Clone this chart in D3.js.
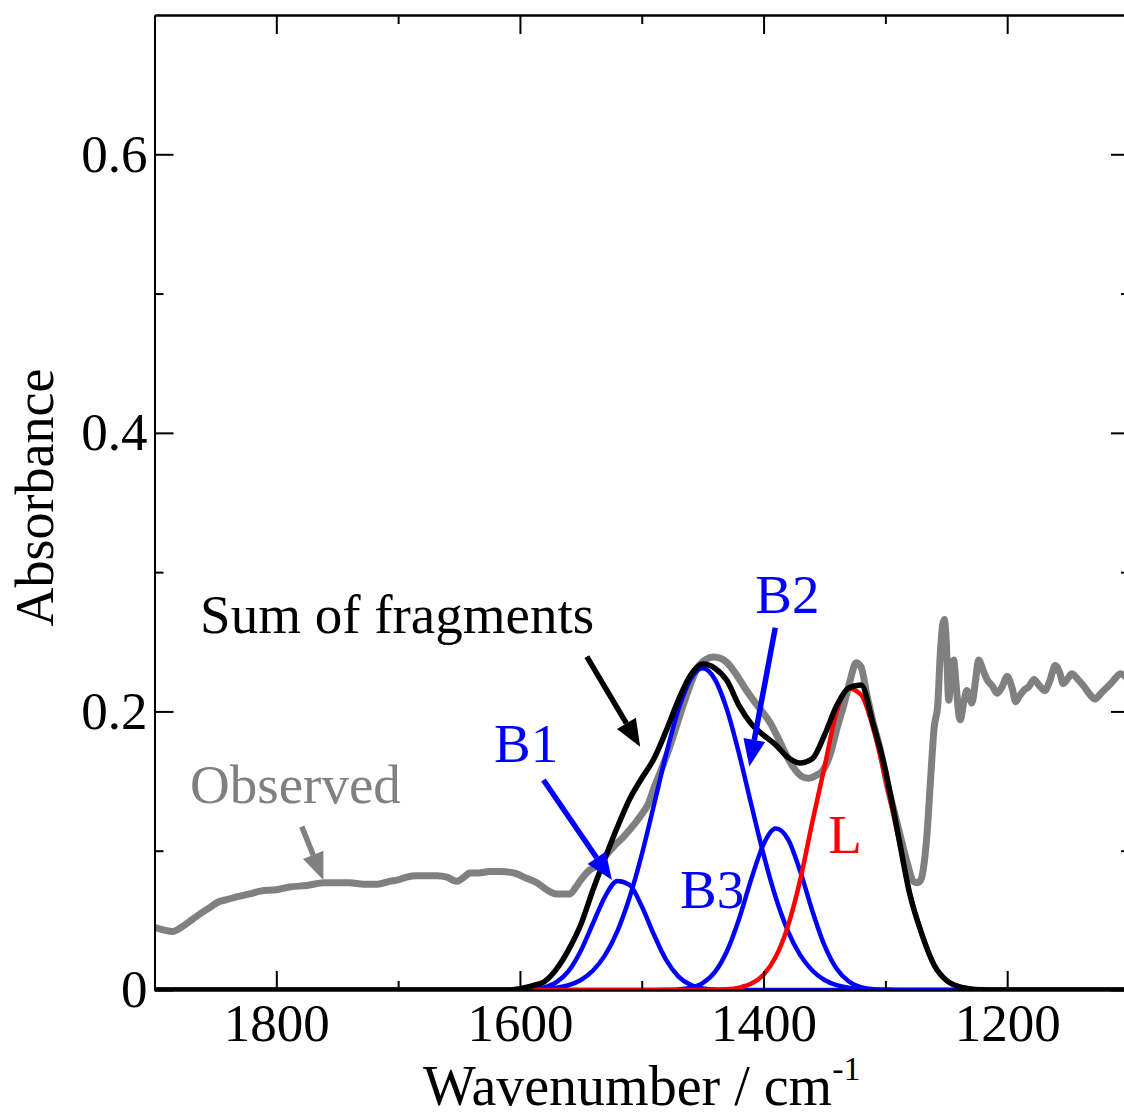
<!DOCTYPE html>
<html>
<head>
<meta charset="utf-8">
<script src="https://cdn.jsdelivr.net/npm/d3@7"></script>
<style>
  body { margin: 0; background: #fff; }
  svg { display: block; font-family: "Liberation Serif", "Times New Roman", serif; }
</style>
</head>
<body>
<div id="chart"></div>
<script>
// wavenumber grid for the fitted curves
const fitWn = [1900, 1640, 1630, 1620, 1610, 1600, 1590, 1580, 1570, 1560, 1550, 1540, 1530, 1520, 1510, 1500,
    1490, 1480, 1470, 1460, 1450, 1440, 1430, 1420, 1410, 1400, 1390, 1380, 1370, 1360, 1350, 1340, 1330,
    1320, 1310, 1300, 1290, 1280, 1270, 1260, 1250, 1240, 1230, 1220, 1210, 1200, 1100];

const b1 = [0, 0, 0, 0, 0, 0.0001, 0.0005, 0.0019, 0.0056, 0.0137, 0.0282, 0.0479, 0.0673, 0.0783, 0.0754, 0.0601,
    0.0397, 0.0216, 0.0098, 0.0037, 0.0011, 0.0003, 0.0001, 0, 0, 0, 0, 0, 0, 0, 0, 0, 0,
    0, 0, 0, 0, 0, 0, 0, 0, 0, 0, 0, 0, 0, 0];

const b2 = [0, 0, 0, 0, 0, 0.0001, 0.0003, 0.0007, 0.0016, 0.0035, 0.0072, 0.014, 0.0252, 0.0423, 0.0664, 0.0972,
    0.1328, 0.1692, 0.2011, 0.2231, 0.231, 0.2231, 0.2011, 0.1692, 0.1328, 0.0972, 0.0664, 0.0423, 0.0252, 0.014, 0.0072, 0.0035, 0.0016,
    0.0007, 0.0003, 0.0001, 0, 0, 0, 0, 0, 0, 0, 0, 0, 0, 0];

const b3 = [0, 0, 0, 0, 0, 0, 0, 0, 0, 0, 0, 0, 0, 0, 0, 0,
    0, 0.0001, 0.0004, 0.0016, 0.005, 0.0128, 0.028, 0.0514, 0.0799, 0.1047, 0.1159, 0.1083, 0.0854, 0.0569, 0.032, 0.0152, 0.0061,
    0.0021, 0.0006, 0.0001, 0, 0, 0, 0, 0, 0, 0, 0, 0, 0, 0];

const lBand = [0, 0, 0, 0, 0, 0, 0, 0, 0, 0, 0, 0, 0, 0, 0, 0,
    0, 0, 0, 0, 0, 0.0002, 0.0005, 0.0017, 0.0046, 0.011, 0.0238, 0.0459, 0.0787, 0.1204, 0.160, 0.1998, 0.2165,
    0.212, 0.188, 0.152, 0.112, 0.070, 0.040, 0.018, 0.007, 0.0025, 0.0008, 0.0002, 0, 0, 0];

const sumFit = [0, 0, 0, 0, 0, 0.001, 0.003, 0.006, 0.015, 0.029, 0.047, 0.072, 0.095, 0.117, 0.137, 0.152,
    0.166, 0.186, 0.208, 0.226, 0.234, 0.231, 0.222, 0.204, 0.191, 0.183, 0.176, 0.167, 0.163, 0.166, 0.183, 0.204, 0.217,
    0.219, 0.191, 0.158, 0.114, 0.069, 0.040, 0.018, 0.007, 0.0025, 0.0008, 0.0002, 0, 0, 0];

// observed spectrum
const obsWn = [1900, 1892, 1885, 1878, 1870, 1862, 1855, 1848, 1840, 1832, 1822, 1813, 1800, 1789, 1775, 1761,
    1750, 1740, 1728, 1717, 1707, 1700, 1693, 1685, 1676, 1668, 1660, 1652, 1646, 1641, 1634, 1625, 1616,
    1605, 1594, 1586, 1578, 1570, 1564, 1559, 1554, 1550, 1543, 1537, 1529, 1523, 1515, 1508, 1501, 1495,
    1490, 1485, 1478, 1468, 1461, 1455, 1448, 1441, 1435, 1430, 1422, 1414, 1404, 1394, 1387, 1381, 1374,
    1368, 1363, 1357, 1351, 1345, 1340, 1334, 1329, 1324, 1320, 1315, 1310, 1304, 1298, 1293, 1287, 1282,
    1277, 1274, 1271, 1269, 1266, 1263, 1260, 1257, 1255, 1253, 1251.6, 1250, 1248, 1246, 1244, 1242, 1240,
    1238.5, 1236, 1233, 1231, 1229, 1226, 1223.5, 1220, 1216.6, 1212, 1208.4, 1204, 1200, 1196, 1193, 1190,
    1186.5, 1182, 1178, 1174, 1169, 1165, 1160.5, 1157, 1154, 1150, 1147, 1142, 1137, 1132, 1128, 1122,
    1115, 1111, 1107, 1100];

const obsAbs = [0.045, 0.043, 0.042, 0.045, 0.050, 0.055, 0.059, 0.063, 0.065, 0.067, 0.069, 0.071, 0.072, 0.074, 0.075, 0.077,
    0.077, 0.077, 0.076, 0.076, 0.078, 0.079, 0.081, 0.082, 0.082, 0.082, 0.081, 0.078, 0.081, 0.084, 0.084, 0.085, 0.085,
    0.084, 0.080, 0.077, 0.072, 0.069, 0.069, 0.069, 0.074, 0.079, 0.086, 0.089, 0.097, 0.103, 0.110, 0.117, 0.125, 0.133,
    0.145, 0.156, 0.172, 0.199, 0.217, 0.230, 0.237, 0.239, 0.238, 0.235, 0.226, 0.215, 0.203, 0.191, 0.179, 0.168, 0.158,
    0.153, 0.152, 0.154, 0.158, 0.170, 0.187, 0.205, 0.222, 0.235, 0.232, 0.211, 0.192, 0.172, 0.146, 0.129, 0.108, 0.091,
    0.078, 0.077, 0.079, 0.086, 0.110, 0.150, 0.188, 0.205, 0.240, 0.262, 0.266, 0.250, 0.208, 0.225, 0.237, 0.220, 0.200,
    0.194, 0.205, 0.215, 0.212, 0.206, 0.222, 0.237, 0.230, 0.223, 0.218, 0.213, 0.218, 0.225, 0.217, 0.207, 0.211,
    0.215, 0.218, 0.223, 0.219, 0.215, 0.222, 0.233, 0.228, 0.220, 0.224, 0.227, 0.223, 0.218, 0.212, 0.209, 0.214,
    0.220, 0.224, 0.227, 0.222];

const xMajorTicks = [1800, 1600, 1400, 1200];
const xMinorTicks = [1700, 1500, 1300];
const yMajorTicks = [0, 0.2, 0.4, 0.6];
const yMinorTicks = [0.1, 0.3, 0.5];

const width = 1124;
const height = 1117;
const plotLeft = 154.5, plotRight = 1129, plotTop = 15, plotBottom = 990;
const tickFont = 53;
const labelFont = 55;
const titleFont = 56;

const x = d3.scaleLinear().domain([1900, 1100]).range([plotLeft, plotRight]);
const y = d3.scaleLinear().domain([0, 0.7]).range([plotBottom, plotTop]);

const svg = d3.select("#chart")
    .append("svg")
    .attr("width", width)
    .attr("height", height);

svg.append("defs").append("clipPath")
    .attr("id", "plot-clip")
    .append("rect")
    .attr("x", plotLeft)
    .attr("y", plotTop)
    .attr("width", plotRight - plotLeft)
    .attr("height", plotBottom - plotTop);

const plot = svg.append("g").attr("clip-path", "url(#plot-clip)");

const line = d3.line()
    .x(d => x(d[0]))
    .y(d => y(d[1]))
    .curve(d3.curveMonotoneX);

function drawCurve(xs, ys, color, lw) {
    plot.append("path")
        .datum(xs.map((w, i) => [w, ys[i]]))
        .attr("fill", "none")
        .attr("stroke", color)
        .attr("stroke-width", lw)
        .attr("stroke-linejoin", "round")
        .attr("d", line);
}

// observed first, then bands, then the sum on top
drawCurve(obsWn, obsAbs, "#808080", 7);
drawCurve(fitWn, b1, "#0000ff", 4.5);
drawCurve(fitWn, b2, "#0000ff", 4.5);
drawCurve(fitWn, b3, "#0000ff", 4.5);
drawCurve(fitWn, lBand, "#ff0000", 4.5);
drawCurve(fitWn, sumFit, "#000000", 5.5);

// axes (ticks inward on all four sides)
const fmt = d => d === 0 ? "0" : d3.format(".1f")(d);

function styleAxis(g) {
    g.selectAll("path.domain").attr("stroke-width", 2);
    g.selectAll(".tick line").attr("stroke-width", 2);
    g.selectAll("text")
        .attr("fill", "#000")
        .style("font-family", "'Liberation Serif', 'Times New Roman', serif")
        .style("font-size", tickFont + "px");
}

svg.append("g")
    .attr("transform", `translate(0,${plotBottom})`)
    .call(d3.axisBottom(x).tickValues(xMajorTicks).tickSizeInner(-19).tickSizeOuter(0).tickPadding(13).tickFormat(d3.format("d")))
    .call(styleAxis);
svg.append("g")
    .attr("transform", `translate(0,${plotBottom})`)
    .call(d3.axisBottom(x).tickValues(xMinorTicks).tickSizeInner(-9).tickSizeOuter(0).tickFormat(""))
    .call(styleAxis);
svg.append("g")
    .attr("transform", `translate(0,${plotTop})`)
    .call(d3.axisTop(x).tickValues(xMajorTicks).tickSizeInner(-19).tickSizeOuter(0).tickFormat(""))
    .call(styleAxis);
svg.append("g")
    .attr("transform", `translate(0,${plotTop})`)
    .call(d3.axisTop(x).tickValues(xMinorTicks).tickSizeInner(-9).tickSizeOuter(0).tickFormat(""))
    .call(styleAxis);

svg.append("g")
    .attr("transform", `translate(${plotLeft},0)`)
    .call(d3.axisLeft(y).tickValues(yMajorTicks).tickSizeInner(-19).tickSizeOuter(0).tickPadding(7).tickFormat(fmt))
    .call(styleAxis);
svg.append("g")
    .attr("transform", `translate(${plotLeft},0)`)
    .call(d3.axisLeft(y).tickValues(yMinorTicks).tickSizeInner(-9).tickSizeOuter(0).tickFormat(""))
    .call(styleAxis);
svg.append("g")
    .attr("transform", `translate(${plotRight},0)`)
    .call(d3.axisRight(y).tickValues(yMajorTicks).tickSizeInner(-18).tickSizeOuter(0).tickFormat(""))
    .call(styleAxis);
svg.append("g")
    .attr("transform", `translate(${plotRight},0)`)
    .call(d3.axisRight(y).tickValues(yMinorTicks).tickSizeInner(-8).tickSizeOuter(0).tickFormat(""))
    .call(styleAxis);

// axis titles
svg.append("text")
    .attr("transform", `translate(53,${(plotTop + plotBottom) / 2 - 5}) rotate(-90)`)
    .attr("text-anchor", "middle")
    .style("font-size", (titleFont - 2) + "px")
    .text("Absorbance");

const xTitle = svg.append("text")
    .attr("x", (plotLeft + plotRight) / 2)
    .attr("y", 1105)
    .attr("text-anchor", "middle")
    .style("font-size", titleFont + "px");
xTitle.append("tspan").text("Wavenumber / cm");
xTitle.append("tspan")
    .attr("dy", -25)
    .style("font-size", "34px")
    .text("-1");

// annotations (data coordinates)
function arrow(w1, a1, w2, a2, color) {
    const x1 = x(w1), y1 = y(a1), x2 = x(w2), y2 = y(a2);
    const ang = Math.atan2(y2 - y1, x2 - x1);
    const headLen = 27, headW = 11;
    const bx = x2 - headLen * Math.cos(ang), by = y2 - headLen * Math.sin(ang);
    svg.append("line")
        .attr("x1", x1).attr("y1", y1)
        .attr("x2", bx).attr("y2", by)
        .attr("stroke", color)
        .attr("stroke-width", 5.5);
    const px = -Math.sin(ang) * headW, py = Math.cos(ang) * headW;
    svg.append("polygon")
        .attr("points", `${x2},${y2} ${bx + px},${by + py} ${bx - px},${by - py}`)
        .attr("fill", color);
}

function label(w, a, txt, color) {
    svg.append("text")
        .attr("x", x(w))
        .attr("y", y(a))
        .attr("fill", color)
        .style("font-size", labelFont + "px")
        .text(txt);
}

label(1862.6, 0.2564, "Sum of fragments", "#000");
arrow(1545.1, 0.2394, 1501.3, 0.1747, "#000");

label(1406.8, 0.2707, "B2", "#0000ff");
arrow(1390.4, 0.260, 1411.7, 0.1604, "#0000ff");

label(1621.3, 0.1637, "B1", "#0000ff");
arrow(1580.7, 0.1508, 1524.5, 0.079, "#0000ff");

label(1468.5, 0.0587, "B3", "#0000ff");
label(1346.8, 0.0986, "L", "#ff0000");

label(1870.8, 0.134, "Observed", "#808080");
arrow(1779.1, 0.1173, 1761.4, 0.079, "#808080");
</script>
</body>
</html>
